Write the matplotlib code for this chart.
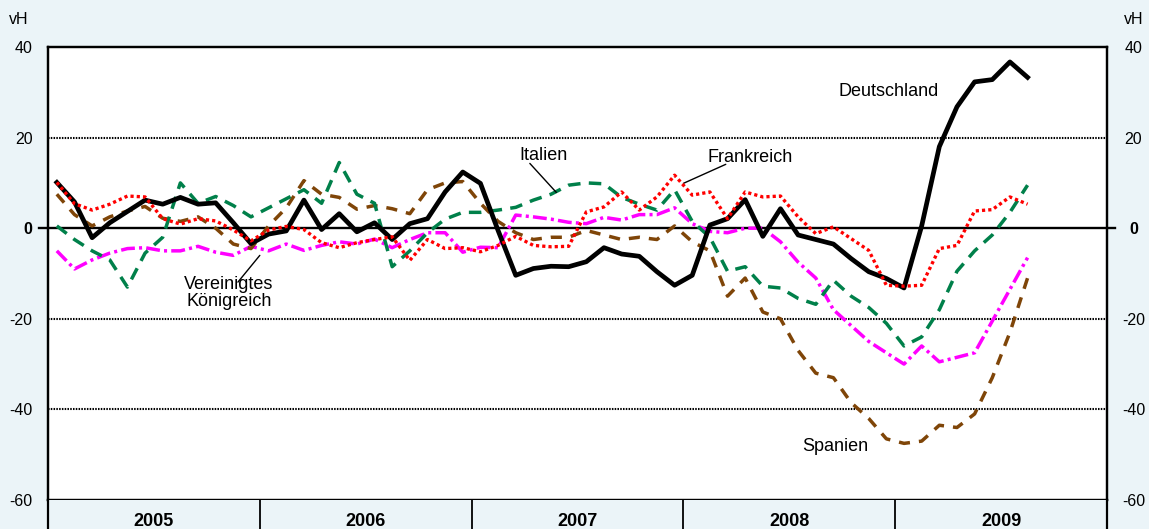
import numpy as np
import matplotlib
matplotlib.use("Agg")
import matplotlib.pyplot as plt

plt.rcParams['font.family'] = ['Liberation Sans', 'DejaVu Sans']
plt.rcParams['lines.scale_dashes'] = False

# monthly values, Jan 2005 .. Aug 2009 (vH)
deutschland = [10.1, 5.8, -2.1, 1.2, 3.7, 6.2, 5.3, 6.8, 5.3, 5.6, 1.2, -3.4,
               -1.3, -0.6, 6.2, -0.3, 3.2, -0.8, 1.2, -2.5, 1.0, 2.1, 8.0, 12.4,
               9.9, -0.5, -10.4, -8.9, -8.4, -8.5, -7.4, -4.3, -5.7, -6.2, -9.6, -12.6,
               -10.4, 0.7, 2.1, 6.3, -1.8, 4.3, -1.5, -2.5, -3.5, -6.7, -9.6, -11.1,
               -13.2, 0.5, 18.0, 26.8, 32.3, 32.8, 36.7, 33.3]
frankreich = [10.1, 5.4, 4.0, 5.3, 7.1, 6.9, 2.1, 0.9, 2.1, 1.6, -0.4, -2.8,
              -0.4, 0.4, -0.3, -3.2, -4.3, -3.2, -2.5, -1.9, -7.1, -2.5, -4.5, -4.3,
              -5.2, -3.8, -1.8, -3.8, -4.1, -4.0, 3.6, 4.7, 8.0, 4.0, 6.9, 11.7,
              7.3, 8.0, 2.1, 8.0, 6.9, 7.1, 2.5, -1.2, 0.3, -2.3, -4.9, -12.6,
              -12.8, -12.6, -4.5, -3.8, 3.8, 4.1, 6.9, 5.3]
italien = [0.5, -2.5, -5.0, -7.0, -13.0, -5.5, -2.0, 10.0, 5.5, 7.0, 5.0, 2.5,
           4.5, 6.5, 8.5, 5.5, 14.5, 7.5, 5.5, -8.5, -5.0, -1.0, 2.0, 3.5,
           3.5, 4.0, 4.6, 6.2, 7.5, 9.5, 10.0, 9.8, 6.8, 5.3, 4.0, 8.5,
           1.5, -2.0, -9.5, -8.5, -12.8, -13.2, -15.5, -16.8, -11.5, -15.0, -17.5, -21.0,
           -26.0, -24.0, -18.0, -9.5, -5.0, -1.5, 3.5, 9.5]
spanien = [7.5, 3.0, 0.5, 2.5, 3.8, 4.8, 2.2, 1.5, 2.5, 0.0, -3.5, -4.5,
           0.5, 4.5, 10.5, 7.5, 6.8, 4.2, 5.0, 4.3, 3.2, 8.5, 10.0, 10.3,
           5.5, 1.5, -1.0, -2.5, -2.0, -2.0, -0.5, -1.5, -2.5, -2.0, -2.5, 0.5,
           -3.0, -5.0, -15.0, -11.0, -18.5, -20.0, -27.0, -32.0, -33.0, -38.5, -42.0, -46.5,
           -47.5, -47.0, -43.5, -44.0, -41.0, -33.0, -23.0, -11.0]
ver_koenigreich = [-5.0, -9.0, -7.0, -5.5, -4.5, -4.3, -5.0, -5.0, -4.0, -5.3, -6.0, -4.0,
                   -5.0, -3.5, -4.9, -3.8, -3.0, -3.5, -2.4, -4.3, -2.5, -1.0, -1.0, -5.3,
                   -4.2, -4.3, 2.9, 2.5, 2.0, 1.3, 1.0, 2.4, 1.8, 3.0, 3.0, 4.5,
                   1.0, -0.7, -1.0, 0.0, 0.0, -3.0, -7.5, -11.0, -18.0, -21.5, -25.0, -27.5,
                   -30.0, -26.0, -29.5, -28.5, -27.5, -20.5, -13.5, -6.5]
years = ['2005', '2006', '2007', '2008', '2009']
yticks = [40, 20, 0, -20, -40, -60]

bg = '#ebf4f8'
months = np.arange(len(deutschland))

fig = plt.figure(figsize=(11.49, 5.29), dpi=100, facecolor=bg)
ax = fig.add_axes([48/1149, 29/529, 1059/1149, 453/529])
ax.set_facecolor('white')
ax.set_xlim(-0.5, 59.5)
ax.set_ylim(-60, 40)

# grid + zero line
for g in [20, -20, -40]:
    ax.axhline(g, color='black', lw=1.5, ls=(0, (1.1, 0.9)), zorder=1)
ax.plot([-0.0085, 1.0076], [0, 0], transform=ax.get_yaxis_transform(which='grid'),
        color='black', lw=1.7, clip_on=False, zorder=2)

# series
ax.plot(months, ver_koenigreich, color='#ff00ff', lw=2.5, ls=(0, (10, 3, 2.2, 3)), zorder=3)
ax.plot(months, spanien, color='#7f4508', lw=2.5, ls=(0, (8, 6.5)), zorder=3)
ax.plot(months, italien, color='#00804a', lw=2.5, ls=(0, (9, 6)), zorder=3)
ax.plot(months, deutschland, color='black', lw=3.4, solid_joinstyle='round', zorder=4)
ax.plot(months, frankreich, color='#ff0000', lw=2.4, ls=(0, (2.3, 2.2)), zorder=5)

# labels
lab = dict(fontsize=13, ha='center', va='center', zorder=6)
ax.text(47.15, 30.2, 'Deutschland', **lab)
ax.text(27.6, 16.1, 'Italien', **lab)
ax.text(39.3, 15.7, 'Frankreich', **lab)
ax.text(9.75, -14.3, 'Vereinigtes\nKönigreich', linespacing=1.05, **lab)
ax.text(44.1, -48.3, 'Spanien', **lab)
leader = dict(arrowstyle='-', color='black', lw=1.0, shrinkA=0, shrinkB=0)
ax.annotate('', xy=(28.3, 7.9), xytext=(26.8, 14.3), arrowprops=leader)
ax.annotate('', xy=(35.5, 9.9), xytext=(37.9, 14.1), arrowprops=leader)
ax.annotate('', xy=(11.5, -6.0), xytext=(10.26, -11.9), arrowprops=leader)

# axes / ticks
ax.set_xticks([])
ax.set_yticks(yticks)
ax.set_yticklabels([str(t) for t in yticks])
ax.tick_params(axis='y', length=0, pad=11, labelsize=11.5)
ax2 = ax.twinx()
ax2.set_ylim(ax.get_ylim())
ax2.set_yticks(yticks)
ax2.set_yticklabels([str(t) for t in yticks])
ax2.tick_params(axis='y', length=0, pad=19, labelsize=11.5)
for t in ax2.get_yticklabels():
    t.set_horizontalalignment('center')
for a in (ax, ax2):
    for t in a.get_yticklabels():
        if t.get_text() == '0':
            t.set_fontweight('bold')
    for s in a.spines.values():
        s.set_linewidth(1.6)

fig.text(19/1149, 1 - 20/529, 'vH', fontsize=11.5, ha='center', va='center')
fig.text(1134/1149, 1 - 20/529, 'vH', fontsize=11.5, ha='center', va='center')

# year band
band = fig.add_axes([48/1149, 0, 1059/1149, 29/529], facecolor=bg)
band.set_xlim(ax.get_xlim())
band.set_ylim(0, 1)
band.set_xticks([])
band.set_yticks([])
band.spines['bottom'].set_visible(False)
band.spines['top'].set_visible(False)
for s in ['left', 'right']:
    band.spines[s].set_linewidth(1.6)
for k, y in enumerate(years):
    band.text(12*k + 5.5, 0.25, y, fontsize=13, fontweight='bold', ha='center', va='center')
    if k > 0:
        band.axvline(12*k - 0.5, color='black', lw=1.3)

fig.savefig('out.png', dpi=100, facecolor=bg)
